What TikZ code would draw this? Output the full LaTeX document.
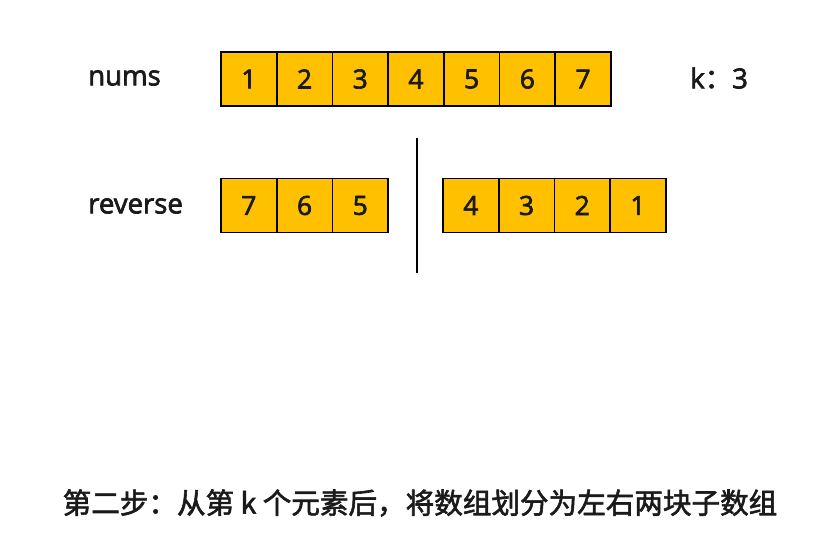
\documentclass[tikz,border=0pt]{standalone}
\usepackage{fontspec}
\setmainfont{Open Sans}[FakeBold=2.5]
\newfontfamily\cjk{Noto Sans CJK SC}[FakeBold=2]
\usepackage{tikz}
\usetikzlibrary{positioning}
\definecolor{cellfill}{HTML}{FFC000}
\definecolor{celltext}{HTML}{1A1A1A}

\begin{document}
\begin{tikzpicture}[x=0.03cm,y=-0.03cm,font=\fontsize{22.5}{26}\selectfont]
  \tikzset{
    cell/.style={draw=black,line width=1.4pt,fill=cellfill,minimum width=1.67cm,minimum height=1.62cm,inner sep=0pt,text=celltext},
    lbl/.style={text=celltext,inner sep=0pt,font=\fontsize{23.5}{28}\selectfont}
  }
  \useasboundingbox (0,0) rectangle (833,559);
  % labels
  \node[lbl,anchor=west] (nums) at (88,78){nums};
  \node[lbl,anchor=west] (rev) at (88,206){reverse};
  \node[lbl,anchor=west] (k) at (690,78){k{\cjk ：}3};
  % array nums
  \foreach \v [count=\i] in {1,...,7} {
    \node[cell] (n\i) at (221+55.7*\i-27.85,79){\v};
  }
  % left part / right part
  \foreach \v [count=\i] in {7,6,5} {
    \node[cell] (l\i) at (221+55.7*\i-27.85,205.5){\v};
  }
  \foreach \v [count=\i] in {4,3,2,1} {
    \node[cell] (r\i) at (443+55.7*\i-27.85,205.5){\v};
  }
  % split line
  \coordinate (cuttop) at (417,138);
  \coordinate (cutbot) at (417,273);
  \draw[line width=1.2pt] (cuttop) -- (cutbot);
  % caption
  \node[lbl,font=\cjk\fontsize{24.4}{28}\selectfont] (cap) at (420,503){第二步：从第 k 个元素后，将数组划分为左右两块子数组};
\end{tikzpicture}
\end{document}
